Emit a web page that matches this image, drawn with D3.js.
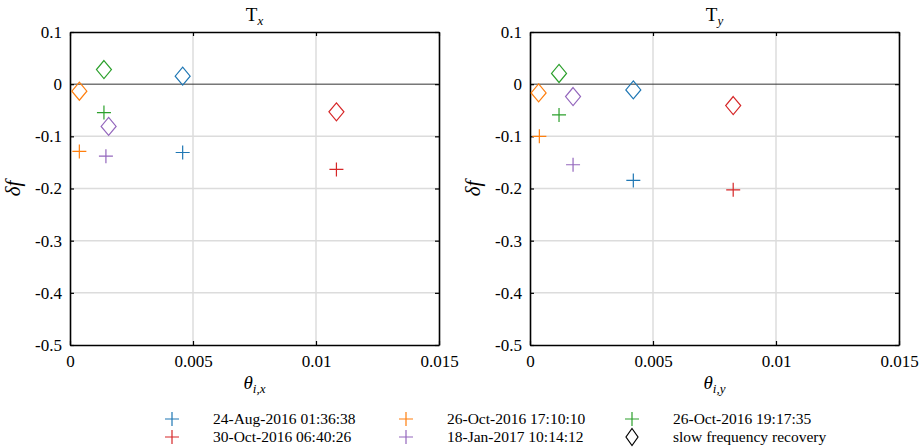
<!DOCTYPE html>
<html>
<head>
<meta charset="utf-8">
<script src="https://cdn.jsdelivr.net/npm/d3@7"></script>
<style>
  body { margin: 0; background: #fff; }
  svg text { font-family: "Liberation Serif", "Times New Roman", serif !important; fill: #000; }
</style>
</head>
<body>
<svg width="923" height="447"></svg>
<script>
// events (legend order) and colours
var events = ["24-Aug-2016 01:36:38", "26-Oct-2016 17:10:10", "26-Oct-2016 19:17:35",
              "30-Oct-2016 06:40:26", "18-Jan-2017 10:14:12"];
var colors = ["#1f77b4", "#ff7f0e", "#2ca02c", "#d62728", "#9467bd"];

// Tx panel: theta_i,x and delta f (plus = event, diamond = slow recovery)
var txTheta     = [0.00458, 0.00038, 0.00138, 0.01083, 0.00146];
var txDelta     = [-0.131, -0.129, -0.0545, -0.1635, -0.138];
var txThetaSlow = [0.00458, 0.00038, 0.00138, 0.01083, 0.00157];
var txDeltaSlow = [0.0154, -0.0135, 0.028, -0.053, -0.081];

// Ty panel
var tyTheta     = [0.00420, 0.00038, 0.00118, 0.00826, 0.00175];
var tyDelta     = [-0.1846, -0.100, -0.059, -0.2025, -0.1545];
var tyThetaSlow = [0.00420, 0.00035, 0.00118, 0.00826, 0.00175];
var tyDeltaSlow = [-0.011, -0.0167, 0.0205, -0.041, -0.0237];

var xTicks = [0, 0.005, 0.01, 0.015];
var yTicks = [0.1, 0, -0.1, -0.2, -0.3, -0.4, -0.5];

var svg = d3.select("svg");

var plusPath = "M-7,0H7M0,-7V7";
var diamondPath = "M0,-9L7.5,0L0,9L-7.5,0Z";

var drawPanel = function(left, sub, theta, delta, thetaS, deltaS) {
  var top = 32, w = 369, h = 313;
  var x = d3.scaleLinear().domain([0, 0.015]).range([0, w]);
  var y = d3.scaleLinear().domain([-0.5, 0.1]).range([h, 0]);

  var g = svg.append("g").attr("transform", "translate(" + left + "," + top + ")");

  // grid
  g.selectAll(".gx").data(xTicks.slice(1, -1)).enter().append("line")
    .attr("x1", function(d){ return x(d); }).attr("x2", function(d){ return x(d); })
    .attr("y1", 0).attr("y2", h)
    .attr("stroke", "#dcdcdc").attr("stroke-width", 1.5);
  g.selectAll(".gy").data(yTicks.slice(1, -1)).enter().append("line")
    .attr("y1", function(d){ return y(d); }).attr("y2", function(d){ return y(d); })
    .attr("x1", 0).attr("x2", w)
    .attr("stroke", function(d){ return d === 0 ? "#333" : "#dcdcdc"; })
    .attr("stroke-width", function(d){ return d === 0 ? 1 : 1.5; });

  // axes with inward ticks on all sides
  var fmtX = function(d){ return d === 0 ? "0" : String(+d.toFixed(3)); };
  var fmtY = function(d){ return d === 0 ? "0" : (d < 0 ? "-" : "") + Math.abs(d).toFixed(1); };

  var axB = g.append("g").attr("transform", "translate(0," + h + ")")
    .call(d3.axisBottom(x).tickValues(xTicks).tickSizeInner(-4).tickSizeOuter(0).tickPadding(10).tickFormat(fmtX));
  var axT = g.append("g")
    .call(d3.axisTop(x).tickValues(xTicks).tickSizeInner(-4).tickSizeOuter(0).tickFormat(""));
  var axL = g.append("g")
    .call(d3.axisLeft(y).tickValues(yTicks).tickSizeInner(-4).tickSizeOuter(0).tickPadding(8).tickFormat(fmtY));
  var axR = g.append("g").attr("transform", "translate(" + w + ",0)")
    .call(d3.axisRight(y).tickValues(yTicks).tickSizeInner(-4).tickSizeOuter(0).tickFormat(""));

  [axB, axT, axL, axR].forEach(function(a){
    a.attr("font-family", null);
    a.select(".domain").attr("stroke", "#000").attr("stroke-width", 1.6);
    a.selectAll(".tick line").attr("stroke", "#000").attr("stroke-width", 1.2);
    a.selectAll("text").attr("font-size", 17).attr("fill", "#000");
  });
  axB.selectAll("text").attr("dy", "0.71em");

  // marks
  var pts = theta.map(function(t, i){ return {x: t, y: delta[i], c: colors[i]}; });
  var slow = thetaS.map(function(t, i){ return {x: t, y: deltaS[i], c: colors[i]}; });

  g.selectAll(".slow").data(slow).enter().append("path")
    .attr("d", diamondPath)
    .attr("transform", function(d){ return "translate(" + x(d.x) + "," + y(d.y) + ")"; })
    .attr("fill", "none").attr("stroke", function(d){ return d.c; }).attr("stroke-width", 1.2);
  g.selectAll(".pt").data(pts).enter().append("path")
    .attr("d", plusPath)
    .attr("transform", function(d){ return "translate(" + x(d.x) + "," + y(d.y) + ")"; })
    .attr("fill", "none").attr("stroke", function(d){ return d.c; }).attr("stroke-width", 1.2);

  // title
  var t = g.append("text").attr("x", w / 2).attr("y", -11).attr("text-anchor", "middle").attr("font-size", 19);
  t.append("tspan").text("T");
  t.append("tspan").attr("font-style", "italic").attr("font-size", 13).attr("dy", 4).text(sub);

  // x label
  var xl = g.append("text").attr("x", w / 2).attr("y", h + 44).attr("text-anchor", "middle").attr("font-size", 19);
  xl.append("tspan").attr("font-style", "italic").text("θ");
  xl.append("tspan").attr("font-style", "italic").attr("font-size", 13).attr("dy", 4).text("i," + sub);

  // y label
  g.append("text")
    .attr("transform", "translate(" + (-50) + "," + (h / 2) + ") rotate(-90)")
    .attr("text-anchor", "middle").attr("font-size", 21).attr("font-style", "italic")
    .text("δf");
};

drawPanel(70, "x", txTheta, txDelta, txThetaSlow, txDeltaSlow);
drawPanel(530, "y", tyTheta, tyDelta, tyThetaSlow, tyDeltaSlow);

// legend: 3 columns x 2 rows
var legItems = events.map(function(e, i){ return {label: e, c: colors[i], sym: plusPath}; });
legItems.push({label: "slow frequency recovery", c: "#000", sym: "M0,-8.5L6,0L0,8.5L-6,0Z"});
// column-major order: [0,3],[1,4],[2,5]
var order = [0, 3, 1, 4, 2, 5];
var colX = [172, 406, 632];
var rowY = [419, 437];

var leg = svg.append("g");
order.forEach(function(idx, k){
  var d = legItems[idx];
  var cx = colX[Math.floor(k / 2)], cy = rowY[k % 2];
  leg.append("path").attr("d", d.sym)
    .attr("transform", "translate(" + cx + "," + cy + ")")
    .attr("fill", "none").attr("stroke", d.c).attr("stroke-width", 1.2);
  leg.append("text").attr("x", cx + 41).attr("y", cy + 5)
    .attr("font-size", 15.5).text(d.label);
});
</script>
</body>
</html>
